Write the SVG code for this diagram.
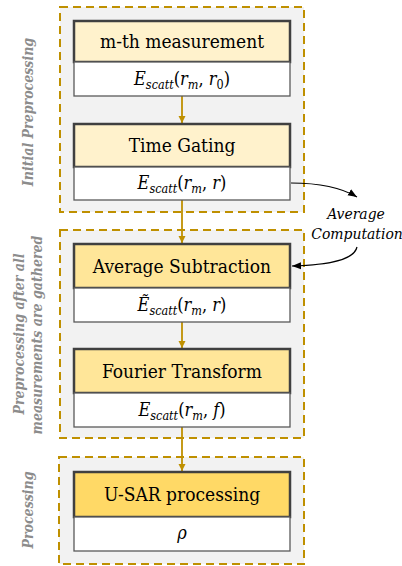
<svg xmlns="http://www.w3.org/2000/svg" width="402" height="566" viewBox="0 0 402 566">
<style>
.grp{fill:#F2F2F2;stroke:#BF9000;stroke-width:2;stroke-dasharray:8 5}
.hd{stroke:#404040;stroke-width:2.5}
.sub{fill:#FFFFFF;stroke:#595959;stroke-width:1.3}
.t{font-size:19px;fill:#000;text-anchor:middle}
.m{font-size:18px;fill:#000;text-anchor:middle}
.i{font-style:italic}
.s{font-size:12.5px;font-style:italic}
.side{font-size:14px;font-style:italic;font-weight:bold;fill:#8C8C8C;text-anchor:middle}
.ac{font-size:15.5px;font-style:italic;fill:#000;text-anchor:middle}
.ga{stroke:#BF9000;stroke-width:1.8;fill:none}
.ka{stroke:#000;stroke-width:1.2;fill:none}
</style>
<defs>
<marker id="ag" markerWidth="8" markerHeight="8" refX="7" refY="4" orient="auto" markerUnits="userSpaceOnUse"><path d="M0,0.5 L7,4 L0,7.5 Z" fill="#BF9000"/></marker>
<marker id="ak" markerWidth="10" markerHeight="8" refX="9" refY="4" orient="auto" markerUnits="userSpaceOnUse"><path d="M0,0.5 L9,4 L0,7.5 Z" fill="#000"/></marker>
</defs>

<g font-family="DejaVu Serif Condensed, DejaVu Serif, serif">
<g id="group-initial">
<rect class="grp" x="60" y="7" width="244" height="205"/>
<text class="side" transform="translate(33,112) rotate(-90)">Initial Preprocessing</text>
</g>
<g id="group-after">
<rect class="grp" x="60" y="230" width="244" height="208"/>
<text class="side" transform="translate(24,334) rotate(-90)">Preprocessing after all</text>
<text class="side" transform="translate(42,335) rotate(-90)">measurements are gathered</text>
</g>
<g id="group-processing">
<rect class="grp" x="59" y="457" width="245" height="107"/>
<text class="side" transform="translate(33,510) rotate(-90)">Processing</text>
</g>

<g id="connectors">
<line class="ga" x1="182" y1="96" x2="182" y2="123" marker-end="url(#ag)"/>
<line class="ga" x1="182" y1="200" x2="182" y2="243" marker-end="url(#ag)"/>
<line class="ga" x1="182" y1="322" x2="182" y2="348" marker-end="url(#ag)"/>
<line class="ga" x1="182" y1="427" x2="182" y2="471" marker-end="url(#ag)"/>
<path class="ka" d="M291,183 C318,183 342,188 357,197" marker-end="url(#ak)"/>
<path class="ka" d="M357,247 C354,260 330,265 292,266" marker-end="url(#ak)"/>
</g>

<g id="node-measurement">
<rect class="hd" x="74" y="21" width="216" height="41" fill="#FFF2CC"/>
<text class="t" x="182" y="48">m-th measurement</text>
<rect class="sub" x="74" y="62" width="216" height="34"/>
<text class="m" x="182" y="85"><tspan class="i">E</tspan><tspan class="s" dy="4">scatt</tspan><tspan dy="-4">(</tspan><tspan class="i">r</tspan><tspan class="s" dy="4">m</tspan><tspan dy="-4">, </tspan><tspan class="i">r</tspan><tspan font-size="12.5" dy="4">0</tspan><tspan dy="-4">)</tspan></text>
</g>

<g id="node-timegating">
<rect class="hd" x="74" y="124" width="216" height="43" fill="#FFF2CC"/>
<text class="t" x="182" y="152">Time Gating</text>
<rect class="sub" x="74" y="167" width="216" height="33"/>
<text class="m" x="182" y="189"><tspan class="i">E</tspan><tspan class="s" dy="4">scatt</tspan><tspan dy="-4">(</tspan><tspan class="i">r</tspan><tspan class="s" dy="4">m</tspan><tspan dy="-4">, </tspan><tspan class="i">r</tspan><tspan>)</tspan></text>
</g>

<g id="node-average">
<rect class="hd" x="74" y="244" width="216" height="44" fill="#FFE699"/>
<text class="t" x="182" y="273">Average Subtraction</text>
<rect class="sub" x="74" y="288" width="216" height="34"/>
<text class="m" x="182" y="311"><tspan class="i">Ẽ</tspan><tspan class="s" dy="4">scatt</tspan><tspan dy="-4">(</tspan><tspan class="i">r</tspan><tspan class="s" dy="4">m</tspan><tspan dy="-4">, </tspan><tspan class="i">r</tspan><tspan>)</tspan></text>
</g>

<g id="node-fourier">
<rect class="hd" x="74" y="349" width="216" height="44" fill="#FFE699"/>
<text class="t" x="182" y="378">Fourier Transform</text>
<rect class="sub" x="74" y="393" width="216" height="34"/>
<text class="m" x="182" y="416"><tspan class="i">E</tspan><tspan class="s" dy="4">scatt</tspan><tspan dy="-4">(</tspan><tspan class="i">r</tspan><tspan class="s" dy="4">m</tspan><tspan dy="-4">, </tspan><tspan class="i">f</tspan><tspan>)</tspan></text>
</g>

<g id="node-usar">
<rect class="hd" x="74" y="472" width="216" height="45" fill="#FFD966"/>
<text class="t" x="182" y="501">U-SAR processing</text>
<rect class="sub" x="74" y="517" width="216" height="34"/>
<text class="m" x="182" y="539"><tspan class="i">ρ</tspan></text>
</g>

<g id="label-average-computation">
<text class="ac" x="356" y="219">Average</text>
<text class="ac" x="357" y="239">Computation</text>
</g>
</g>
</svg>
